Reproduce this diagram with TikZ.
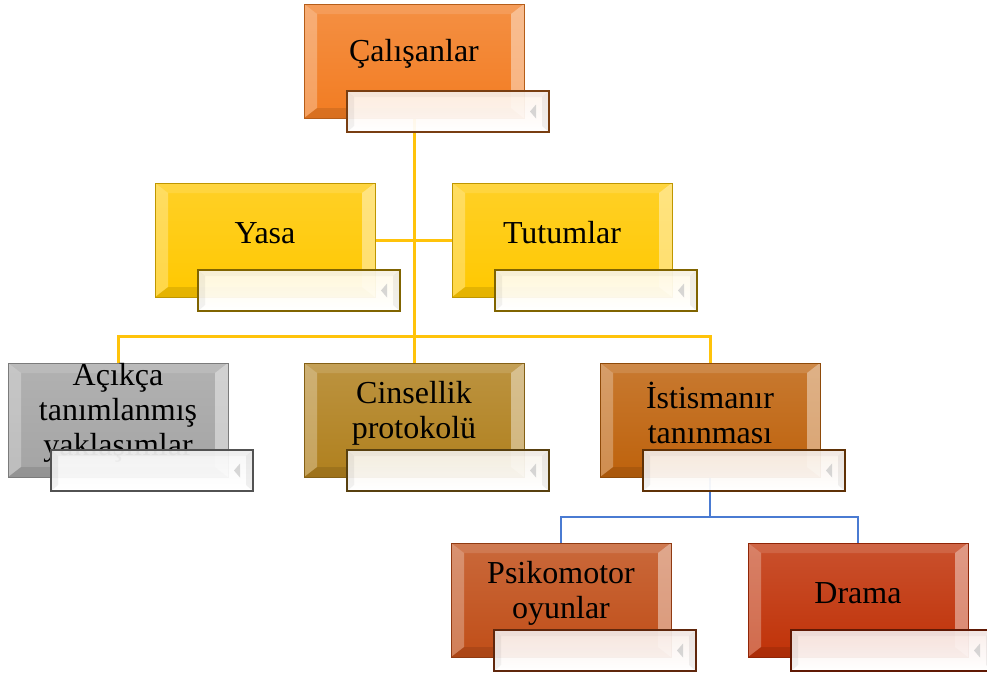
\documentclass[tikz,border=0pt]{standalone}
\usepackage{fontspec}
\setmainfont{Liberation Serif}
\usetikzlibrary{backgrounds,calc}

% base colours of the boxes
\definecolor{cOrange}{HTML}{F27C22}
\definecolor{cGold}{HTML}{FFC800}
\definecolor{cGray}{HTML}{A4A4A4}
\definecolor{cOlive}{HTML}{B0801E}
\definecolor{cAmber}{HTML}{BE620C}
\definecolor{cRust}{HTML}{C04E18}
\definecolor{cRed}{HTML}{C03208}
\definecolor{cLineY}{HTML}{FFC30A}
\definecolor{cLineB}{HTML}{4A7BD2}

\tikzset{
  % raised frame drawn inside a box
  bevelpic/.style={path picture={
    \coordinate (bsw) at (path picture bounding box.south west);
    \coordinate (bnw) at (path picture bounding box.north west);
    \coordinate (bne) at (path picture bounding box.north east);
    \coordinate (bse) at (path picture bounding box.south east);
    \fill[white,opacity=.12] (bnw) -- (bne) -- ([shift={(-13pt,-10pt)}]bne) -- ([shift={(13pt,-10pt)}]bnw) -- cycle;
    \fill[black,opacity=.10] (bsw) -- (bse) -- ([shift={(-13pt,10pt)}]bse) -- ([shift={(13pt,10pt)}]bsw) -- cycle;
    \fill[white,opacity=.28] (bsw) -- (bnw) -- ([shift={(13pt,-10pt)}]bnw) -- ([shift={(13pt,10pt)}]bsw) -- cycle;
    \fill[white,opacity=.42] (bse) -- (bne) -- ([shift={(-13pt,-10pt)}]bne) -- ([shift={(-13pt,10pt)}]bse) -- cycle;
  }},
  subpic/.style={path picture={
    \coordinate (ssw) at (path picture bounding box.south west);
    \coordinate (snw) at (path picture bounding box.north west);
    \coordinate (sne) at (path picture bounding box.north east);
    \coordinate (sse) at (path picture bounding box.south east);
    \fill[black,opacity=.05] (ssw) -- (snw) -- ([shift={(7pt,-6pt)}]snw) -- ([shift={(7pt,6pt)}]ssw) -- cycle;
    \fill[black,opacity=.03] (snw) -- (sne) -- ([shift={(-7pt,-6pt)}]sne) -- ([shift={(7pt,-6pt)}]snw) -- cycle;
    \fill[black,opacity=.06] (sse) -- (sne) -- ([shift={(-7pt,-6pt)}]sne) -- ([shift={(-7pt,6pt)}]sse) -- cycle;
    \fill[gray!45,opacity=.7] ([shift={(-19pt,0pt)}]$(sne)!.5!(sse)$) -- ([shift={(-13pt,7pt)}]$(sne)!.5!(sse)$) -- ([shift={(-13pt,-7pt)}]$(sne)!.5!(sse)$) -- cycle;
  }},
  mainbox/.style={rectangle, minimum width=220pt, minimum height=114pt,
    inner sep=0pt, outer sep=0pt, draw=#1!75!black, line width=.8pt,
    top color=#1!85!white, bottom color=#1, bevelpic},
  subbox/.style={rectangle, anchor=north west, minimum width=202pt,
    minimum height=41pt, inner sep=0pt, outer sep=0pt,
    draw=#1!50!black, line width=1.6pt, fill opacity=.94,
    top color=#1!9!white, bottom color=white, subpic},
  boxtext/.style={font=\fontsize{32}{35}\selectfont, align=center,
    text width=212pt, inner sep=0pt, text=black},
  yline/.style={draw=cLineY, line width=3pt},
  bline/.style={draw=cLineB, line width=2.6pt},
}

% box with its caption and the small panel below it
\newcommand\orgbox[5]{%
  \node[mainbox=#4] (#1) at (#2,#3) {};
  \node[boxtext] (#1t) at ([yshift=7pt]#1.center) {#5};
  \node[subbox=#4] (#1s) at ([xshift=43pt,yshift=27pt]#1.south west) {};
}

\begin{document}
\begin{tikzpicture}[x=1pt,y=-1pt]
  \clip (0,0) rectangle (987,680);

  \orgbox{A}{414}{61}{cOrange}{Çalışanlar}
  \orgbox{B}{265}{240}{cGold}{Yasa}
  \orgbox{C}{562}{240}{cGold}{Tutumlar}
  \orgbox{D}{118}{420}{cGray}{Açıkça\\tanımlanmış\\yaklaşımlar}
  \orgbox{E}{414}{420}{cOlive}{Cinsellik\\protokolü}
  \orgbox{F}{710}{420}{cAmber}{İstismanır\\tanınması}
  \orgbox{G}{561}{600}{cRust}{Psikomotor\\oyunlar}
  \orgbox{H}{858}{600}{cRed}{Drama}

  \begin{pgfonlayer}{background}
    % yellow tree
    \draw[yline] (A.south) -- (E.north);
    \draw[yline] (B.east) -- (C.west);
    \draw[yline] (D.north) -- ([yshift=27pt]D.north) -- ([yshift=27pt]F.north) -- (F.north);
    % blue branch
    \coordinate (bj) at ([yshift=26pt]G.north);
    \draw[bline] (F.south) -- (F.south |- bj);
    \draw[bline] (G.north) -- (bj) -- (bj -| H.north) -- (H.north);
  \end{pgfonlayer}
\end{tikzpicture}
\end{document}
